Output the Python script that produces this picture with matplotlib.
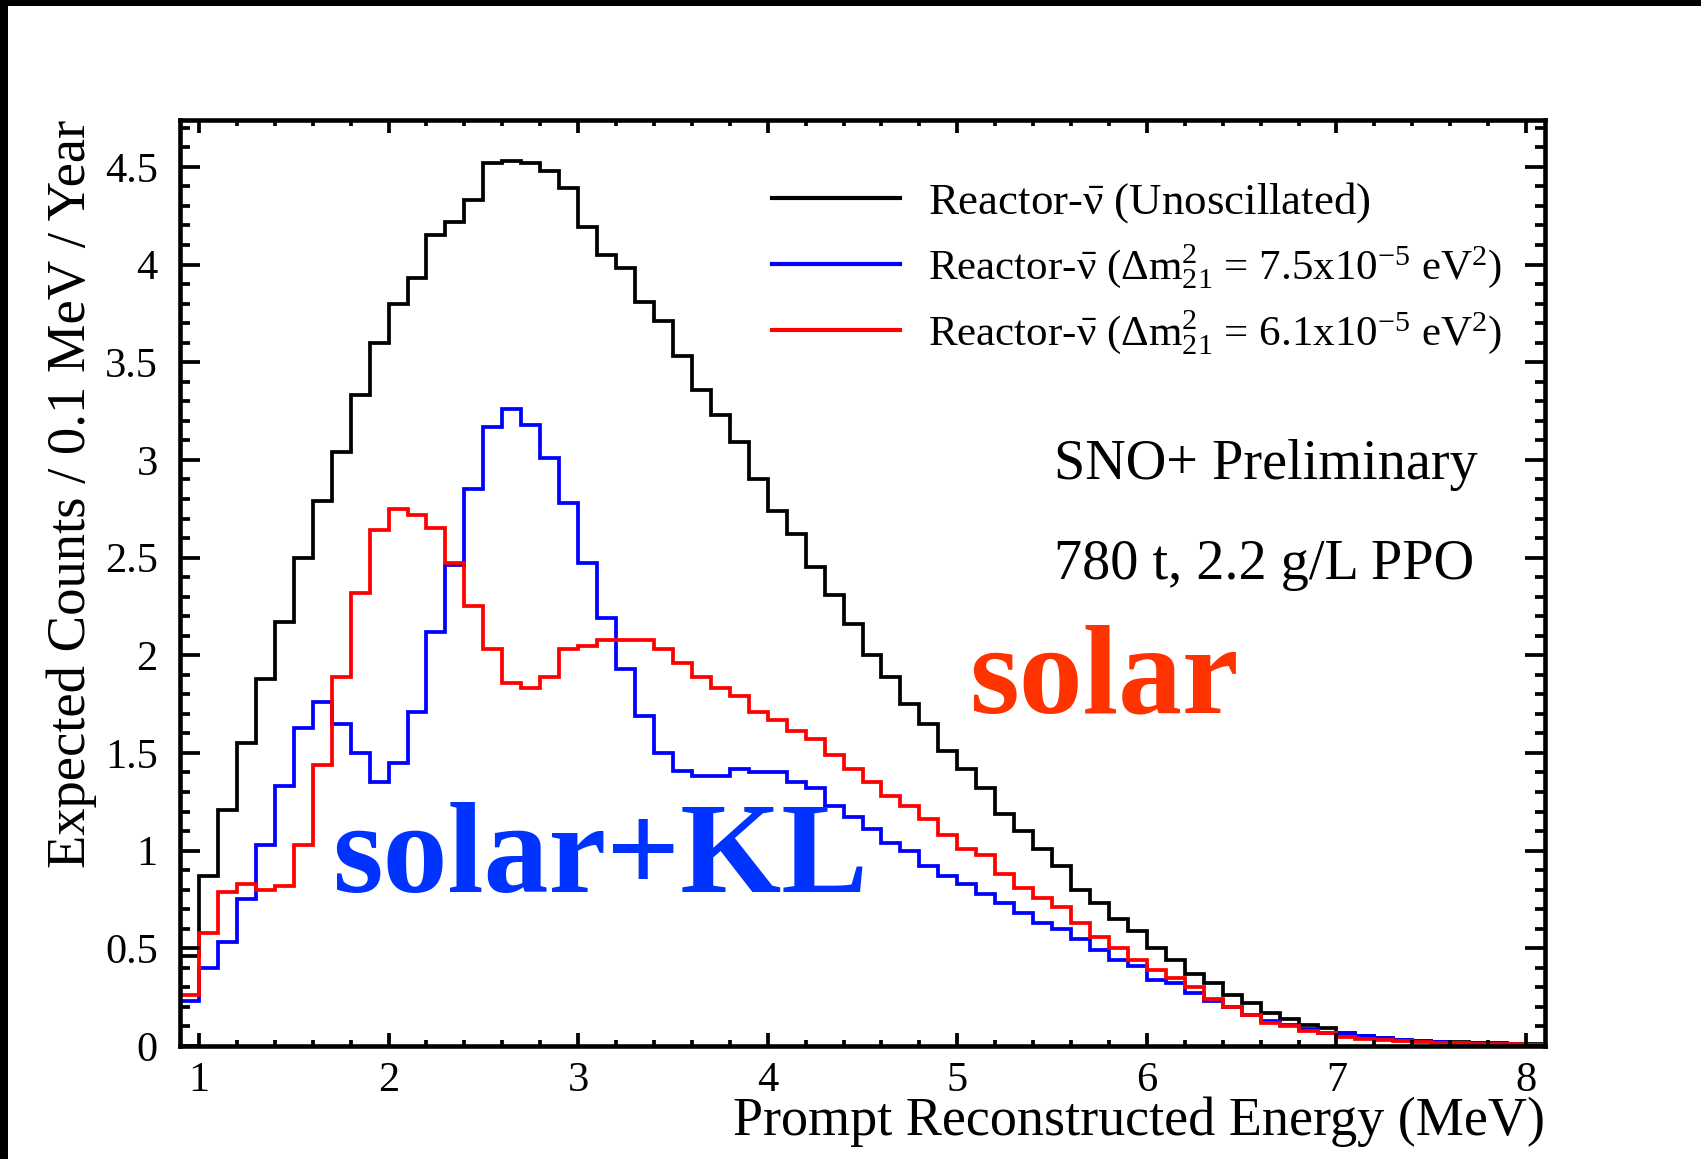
import numpy as np
import matplotlib
matplotlib.use("Agg")
import matplotlib.pyplot as plt
from matplotlib.ticker import MultipleLocator, FuncFormatter
from matplotlib.patches import Rectangle

# Binning of the prompt-energy histograms (MeV)
bin_low = 0.9
bin_width = 0.1

# Expected counts / 0.1 MeV / year, bins from 0.9 to 8.1 MeV
unoscillated = [
    0.46, 0.87, 1.21, 1.55, 1.88, 2.17, 2.50, 2.79, 3.04, 3.33,
    3.60, 3.80, 3.93, 4.15, 4.22, 4.33, 4.52, 4.53, 4.52, 4.48,
    4.39, 4.19, 4.05, 3.98, 3.81, 3.71, 3.53, 3.36, 3.23, 3.09,
    2.90, 2.74, 2.62, 2.45, 2.31, 2.16, 2.00, 1.89, 1.75, 1.65,
    1.51, 1.42, 1.32, 1.19, 1.10, 1.01, 0.92, 0.80, 0.73, 0.65,
    0.59, 0.50, 0.44, 0.37, 0.32, 0.26, 0.22, 0.17, 0.14, 0.11,
    0.09, 0.064, 0.052, 0.042, 0.033, 0.028, 0.023, 0.019, 0.016, 0.013,
    0.011, 0.009,
]
osc_dm2_75 = [
    0.23, 0.40, 0.53, 0.75, 1.03, 1.33, 1.63, 1.76, 1.65, 1.50,
    1.35, 1.45, 1.71, 2.12, 2.46, 2.85, 3.17, 3.26, 3.18, 3.01,
    2.78, 2.47, 2.19, 1.93, 1.69, 1.50, 1.41, 1.38, 1.38, 1.42,
    1.40, 1.40, 1.35, 1.32, 1.23, 1.17, 1.11, 1.04, 1.00, 0.92,
    0.87, 0.83, 0.78, 0.73, 0.68, 0.63, 0.60, 0.55, 0.49, 0.44,
    0.41, 0.34, 0.32, 0.27, 0.23, 0.20, 0.16, 0.13, 0.11, 0.085,
    0.069, 0.059, 0.050, 0.040, 0.032, 0.026, 0.020, 0.016, 0.013, 0.010,
    0.008, 0.006,
]
osc_dm2_61 = [
    0.26, 0.58, 0.79, 0.83, 0.80, 0.82, 1.03, 1.44, 1.89, 2.32,
    2.64, 2.75, 2.72, 2.65, 2.47, 2.25, 2.03, 1.86, 1.83, 1.89,
    2.03, 2.05, 2.08, 2.08, 2.08, 2.03, 1.96, 1.89, 1.83, 1.79,
    1.71, 1.67, 1.61, 1.57, 1.49, 1.42, 1.35, 1.28, 1.23, 1.16,
    1.08, 1.01, 0.98, 0.88, 0.81, 0.76, 0.71, 0.63, 0.56, 0.50,
    0.44, 0.39, 0.35, 0.30, 0.24, 0.20, 0.16, 0.12, 0.10, 0.078,
    0.064, 0.047, 0.038, 0.030, 0.025, 0.020, 0.017, 0.014, 0.012, 0.010,
    0.008, 0.007,
]

series_labels = [
    r"Reactor-$\mathrm{\bar{\nu}}$ (Unoscillated)",
    r"Reactor-$\mathrm{\bar{\nu}}$ ($\mathrm{\Delta m^{2}_{21}}$ = 7.5x10$^{\mathrm{-5}}$ eV$^{\mathrm{2}}$)",
    r"Reactor-$\mathrm{\bar{\nu}}$ ($\mathrm{\Delta m^{2}_{21}}$ = 6.1x10$^{\mathrm{-5}}$ eV$^{\mathrm{2}}$)",
]
series_colors = ["#000000", "#0000ff", "#ff0000"]

x_ticks = [1, 2, 3, 4, 5, 6, 7, 8]
y_ticks = [0, 0.5, 1, 1.5, 2, 2.5, 3, 3.5, 4, 4.5]

plt.rcParams.update({
    "font.family": ["Liberation Serif", "DejaVu Serif"],
    "mathtext.fontset": "custom",
    "mathtext.rm": "Liberation Serif",
    "mathtext.it": "Liberation Serif:italic",
    "mathtext.bf": "Liberation Serif:bold",
})

W, H = 1701, 1159
fig = plt.figure(figsize=(W / 100, H / 100), dpi=100)
fig.patch.set_facecolor("white")

# dark frame strips along the top and left edges of the canvas
fig.patches.append(Rectangle((0, 1 - 6 / H), 1, 6 / H, transform=fig.transFigure,
                             facecolor="black", edgecolor="none", zorder=0))
fig.patches.append(Rectangle((0, 0), 8 / W, 1, transform=fig.transFigure,
                             facecolor="black", edgecolor="none", zorder=0))

ax_l, ax_r, ax_t, ax_b = 180, 1545, 120, 1046
ax = fig.add_axes([ax_l / W, 1 - ax_b / H, (ax_r - ax_l) / W, (ax_b - ax_t) / H])

edges = bin_low + bin_width * np.arange(len(unoscillated) + 1)
for vals, col, lab in zip([unoscillated, osc_dm2_75, osc_dm2_61], series_colors, series_labels):
    ax.stairs(vals, edges, color=col, linewidth=2.7, label=lab, baseline=None)

ax.set_xlim(0.9, 8.1)
ax.set_ylim(0, 4.74)

ax.xaxis.set_major_locator(MultipleLocator(1))
ax.xaxis.set_minor_locator(MultipleLocator(0.2))
ax.yaxis.set_major_locator(MultipleLocator(0.5))
ax.yaxis.set_minor_locator(MultipleLocator(0.1))
ax.set_xticks(x_ticks)
ax.set_yticks(y_ticks)
ax.yaxis.set_major_formatter(FuncFormatter(lambda v, p: f"{v:g}"))
ax.xaxis.set_major_formatter(FuncFormatter(lambda v, p: f"{v:g}"))

for sp in ax.spines.values():
    sp.set_linewidth(3.3)

ax.tick_params(which="both", direction="in", top=True, right=True, width=2.7,
               labelsize=30.5, colors="black")
ax.tick_params(axis="y", which="major", length=14.4, pad=16)
ax.tick_params(axis="y", which="minor", length=7.2)
ax.tick_params(axis="x", which="major", length=9.4, pad=11)
ax.tick_params(axis="x", which="minor", length=4.4)

ax.set_xlabel("Prompt Reconstructed Energy (MeV)", fontsize=39, loc="right")
ax.xaxis.set_label_coords(1.0, -0.054)
ax.set_ylabel("Expected Counts / 0.1 MeV / Year", fontsize=39.3, loc="top")
ax.yaxis.set_label_coords(-0.061, 1.0)

leg = ax.legend(loc="upper left", bbox_to_anchor=(772 / W, 1 - 180 / H),
                bbox_transform=fig.transFigure, frameon=False, fontsize=32.3,
                handlelength=2.85, handletextpad=0.62, labelspacing=0.40,
                borderpad=0, borderaxespad=0)
for ln in leg.get_lines():
    ln.set_linewidth(3.0)
# the two oscillated entries carry sub/superscripts; keep them compact
for txt in leg.get_texts()[1:]:
    txt.set_fontsize(31)

ax.text(5.508, 2.90, "SNO+ Preliminary", fontsize=40.5, va="baseline", ha="left")
ax.text(5.508, 2.39, "780 t, 2.2 g/L PPO", fontsize=40.5, va="baseline", ha="left")
ax.text(5.06, 1.707, "solar", fontsize=92, fontweight="bold", color="#ff3300",
        va="baseline", ha="left")
ax.text(1.70, 0.79, "solar+KL", fontsize=93.5, fontweight="bold", color="#0033ff",
        va="baseline", ha="left")

fig.savefig("out.png", dpi=100)
